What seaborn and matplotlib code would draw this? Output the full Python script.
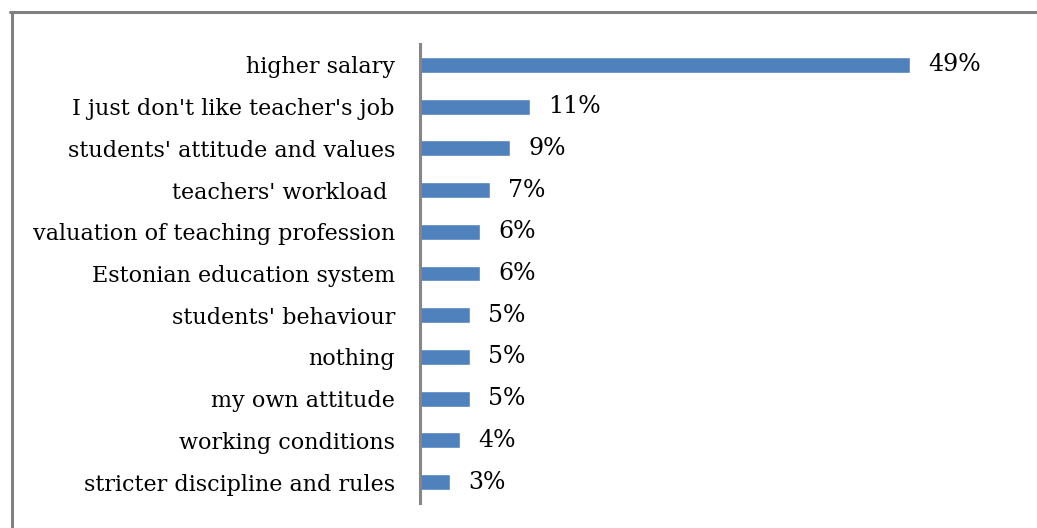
import matplotlib
matplotlib.use("Agg")
import matplotlib.pyplot as plt
import seaborn as sns
import pandas as pd
from matplotlib.lines import Line2D

# Data
reasons = [
    "higher salary",
    "I just don't like teacher's job",
    "students' attitude and values",
    "teachers' workload ",
    "valuation of teaching profession",
    "Estonian education system",
    "students' behaviour",
    "nothing",
    "my own attitude",
    "working conditions",
    "stricter discipline and rules",
]
shares = [49, 11, 9, 7, 6, 6, 5, 5, 5, 4, 3]

df = pd.DataFrame({"reason": reasons, "share": shares})

sns.set_theme(style="white")
plt.rcParams["font.family"] = ["DejaVu Serif"]

W, H = 1037, 528
fig = plt.figure(figsize=(W / 100, H / 100), dpi=100)
# axes in pixel coords: x 420..920 (0..50%), y 44..503
ax = fig.add_axes([420 / W, 1 - 503 / H, 500 / W, 459 / H])

sns.barplot(data=df, x="share", y="reason", color="#4F81BD", saturation=1,
            width=0.38, orient="h", ax=ax)

ax.set_xlim(0, 50)
ax.set_ylim(10.5, -0.5)
ax.set_xlabel("")
ax.set_ylabel("")
ax.set_xticks([])
ax.tick_params(axis="y", length=0, pad=18, labelsize=16, labelcolor="black")

for s in ["top", "right", "bottom"]:
    ax.spines[s].set_visible(False)
ax.spines["left"].set_color("#868686")
ax.spines["left"].set_linewidth(2.2)

for i, v in enumerate(shares):
    ax.text(v + 1.8, i, f"{v}%", va="center", ha="left", fontsize=17,
            color="black", clip_on=False)

# outer frame (left and top edges)
fig.add_artist(Line2D([11.5 / W, 11.5 / W], [0, 1 - 12 / H],
                      transform=fig.transFigure, color="#808080", lw=2.2))
fig.add_artist(Line2D([10 / W, 1], [1 - 12 / H, 1 - 12 / H],
                      transform=fig.transFigure, color="#808080", lw=2.2))

fig.savefig("out.png", dpi=100)
